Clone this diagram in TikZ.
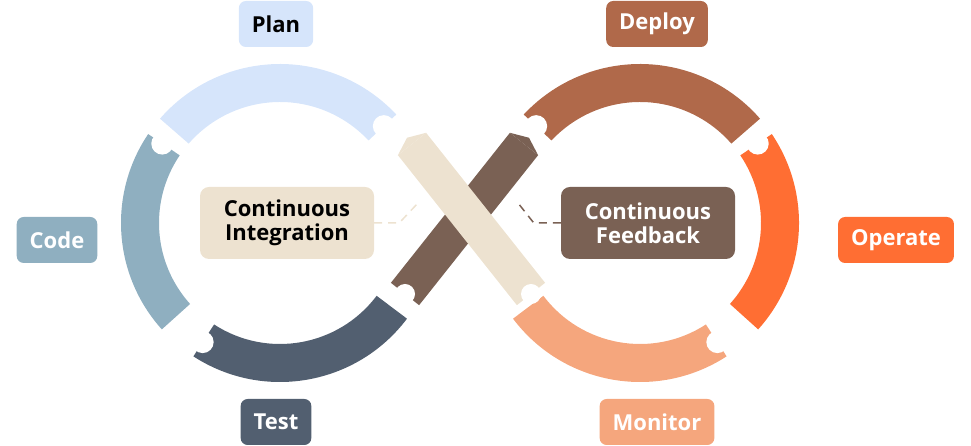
\documentclass[tikz,border=0pt]{standalone}
\usepackage{fontspec}
\setmainfont{Open Sans}
\usetikzlibrary{calc}
\definecolor{plan}{HTML}{D6E5FB}
\definecolor{code}{HTML}{8FAFC0}
\definecolor{test}{HTML}{525F70}
\definecolor{deploy}{HTML}{B0694A}
\definecolor{operate}{HTML}{FF6E33}
\definecolor{monitor}{HTML}{F5A67D}
\definecolor{ci}{HTML}{EDE2D0}
\definecolor{cf}{HTML}{7A6154}
\newcommand\ringseg[4]{%
\fill[#1] ($(#2)+(#3:159)$) arc[start angle=#3,end angle=#4,radius=159] -- ($(#2)+(#4:121)$) arc[start angle=#4,end angle=#3,radius=121] -- cycle;}
\tikzset{
  pill/.style={rounded corners=7pt, minimum height=46pt, inner xsep=13pt, font=\fontsize{22}{24}\selectfont\bfseries},
  box/.style={rounded corners=9pt, minimum width=174pt, minimum height=72pt, align=center, font=\fontsize{22}{24}\selectfont\bfseries},
  notch/.style={fill=white, radius=11},
  link/.style={dashed, line width=1.5pt, dash pattern=on 8pt off 6pt}
}
\begin{document}
\begin{tikzpicture}[x=1pt,y=1pt]
\useasboundingbox (0,0) rectangle (971,446);
\coordinate (L) at (280,223);
\coordinate (R) at (640,223);
% left loop
\ringseg{plan}{L}{43}{139}
\ringseg{code}{L}{146}{222}
\ringseg{test}{L}{237}{323}
\fill[notch] ($(L)+(43:142)$) circle;
\fill[notch] ($(L)+(146:142)$) circle;
\fill[notch] ($(L)+(237:142)$) circle;
% right loop
\ringseg{deploy}{R}{41}{137}
\ringseg{operate}{R}{-42}{34}
\ringseg{monitor}{R}{217}{303}
\fill[notch] ($(R)+(137:142)$) circle;
\fill[notch] ($(R)+(34:142)$) circle;
\fill[notch] ($(R)+(303:142)$) circle;
% crossing
\coordinate (cfa) at (405,152);
\coordinate (cfb) at (524,302);
\coordinate (cia) at (412,302);
\coordinate (cib) at (531,152);
\draw[cf, line width=36pt] (cfa) -- (cfb);
\fill[cf] ($(cfb)!18pt!90:(cfa)$) -- ($(cfb)!-8pt!(cfa)$) -- ($(cfb)!18pt!-90:(cfa)$) -- cycle;
\fill[notch, radius=10] (cfa) circle;
\draw[ci, line width=36pt] (cia) -- (cib);
\fill[ci] ($(cia)!18pt!90:(cib)$) -- ($(cia)!-8pt!(cib)$) -- ($(cia)!18pt!-90:(cib)$) -- cycle;
\fill[notch, radius=10] (cib) circle;
% boxes
\node[box, fill=ci] (integ) at (287,223) {Continuous\\Integration};
\node[box, fill=cf, text=white] (feed) at (648,223) {Continuous\\Feedback};
\coordinate (ciend) at (418,243);
\coordinate (cfend) at (518,243);
\draw[link, ci] (integ.east) -- ++(25,0) -- (ciend);
\draw[link, cf] (feed.west) -- ++(-27,0) -- (cfend);
% labels
\node[pill, fill=plan] (planlbl) at (276,422) {Plan};
\node[pill, fill=code, text=white] (codelbl) at (57,206) {Code};
\node[pill, fill=test, text=white] (testlbl) at (276,24) {Test};
\node[pill, fill=deploy, text=white] (deploylbl) at (657,422) {Deploy};
\node[pill, fill=operate, text=white] (operatelbl) at (896,206) {Operate};
\node[pill, fill=monitor, text=white] (monitorlbl) at (657,24) {Monitor};
\end{tikzpicture}
\end{document}
